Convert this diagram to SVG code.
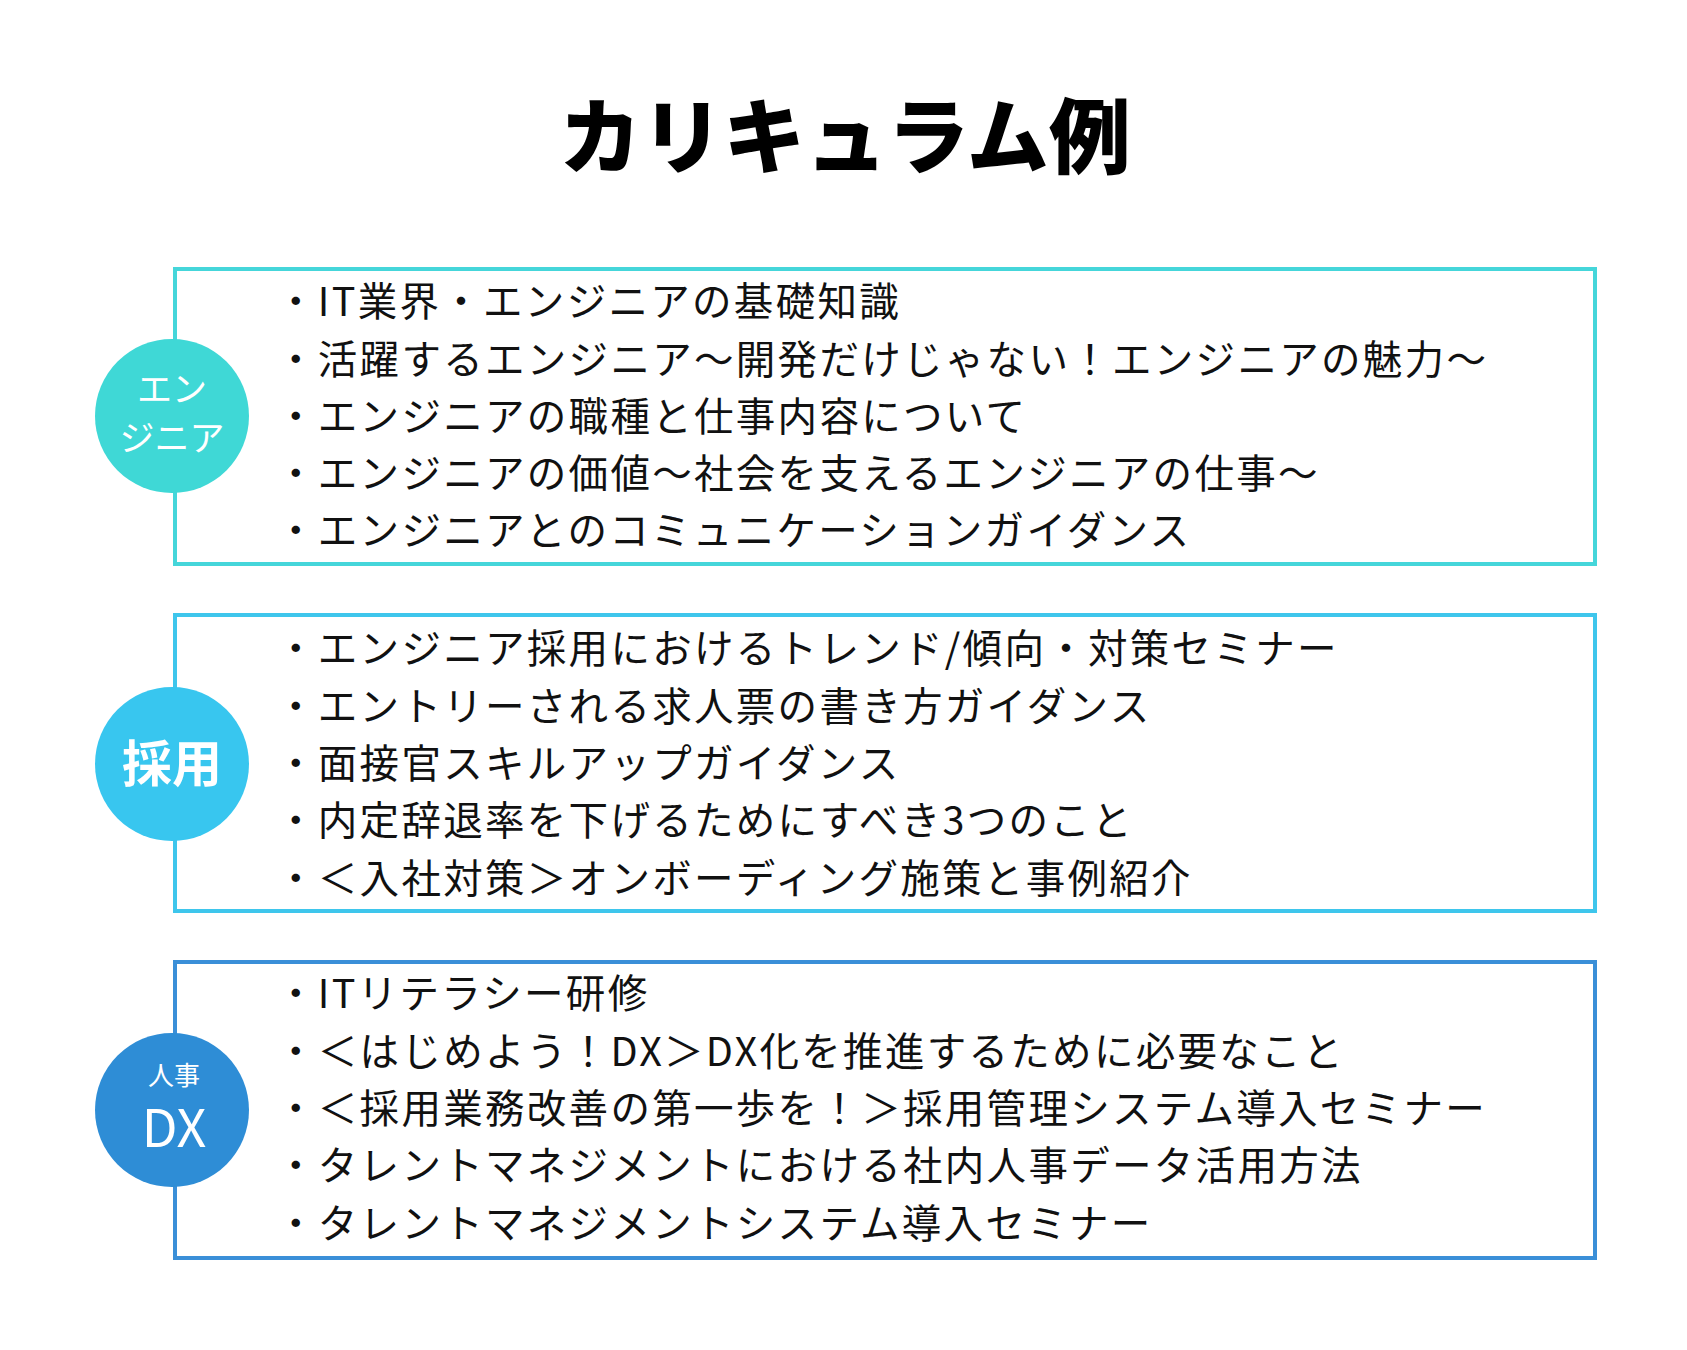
<svg xmlns="http://www.w3.org/2000/svg" width="1687" height="1350" viewBox="0 0 1687 1350">
<style>
.title{font-family:"Noto Sans CJK JP","Noto Sans",sans-serif;font-weight:900;font-size:82px;fill:#000;}
.item{font-family:"Noto Sans CJK JP","Noto Sans",sans-serif;font-size:39.5px;letter-spacing:2.3px;fill:#111;}
.ctext{font-family:"Noto Sans CJK JP","Noto Sans",sans-serif;fill:#fff;text-anchor:middle;}
.box{fill:#fff;stroke-width:4;}
</style>
<rect width="1687" height="1350" fill="#fff"/>
<text class="title" x="845" y="167" text-anchor="middle">カリキュラム例</text>

<g id="connectors"></g>

<g id="engineer">
<rect class="box" x="175" y="269" width="1420" height="295" stroke="#45D6DA"/>
<circle cx="172" cy="416" r="77" fill="#3FD8D6"/>
<text class="ctext" x="172" y="402" font-size="35">エン</text>
<text class="ctext" x="172" y="451" font-size="35">ジニア</text>
<text class="item" x="276" y="316">・IT業界・エンジニアの基礎知識</text>
<text class="item" x="276" y="374">・活躍するエンジニア〜開発だけじゃない！エンジニアの魅力〜</text>
<text class="item" x="276" y="431">・エンジニアの職種と仕事内容について</text>
<text class="item" x="276" y="488">・エンジニアの価値〜社会を支えるエンジニアの仕事〜</text>
<text class="item" x="276" y="545">・エンジニアとのコミュニケーションガイダンス</text>
</g>

<g id="saiyou">
<rect class="box" x="175" y="615" width="1420" height="296" stroke="#3EC6EC"/>
<circle cx="172" cy="764" r="77" fill="#38C6EF"/>
<text class="ctext" x="172" y="782" font-size="50" font-weight="700">採用</text>
<text class="item" x="276" y="663">・エンジニア採用におけるトレンド/傾向・対策セミナー</text>
<text class="item" x="276" y="721">・エントリーされる求人票の書き方ガイダンス</text>
<text class="item" x="276" y="778">・面接官スキルアップガイダンス</text>
<text class="item" x="276" y="835">・内定辞退率を下げるためにすべき3つのこと</text>
<text class="item" x="276" y="893">・＜入社対策＞オンボーディング施策と事例紹介</text>
</g>

<g id="jinjidx">
<rect class="box" x="175" y="962" width="1420" height="296" stroke="#3A8FD8"/>
<circle cx="172" cy="1110" r="77" fill="#2E8DD6"/>
<text class="ctext" x="174" y="1085" font-size="26">人事</text>
<text class="ctext" x="174" y="1147" font-size="52">DX</text>
<text class="item" x="276" y="1008">・ITリテラシー研修</text>
<text class="item" x="276" y="1066">・＜はじめよう！DX＞DX化を推進するために必要なこと</text>
<text class="item" x="276" y="1123">・＜採用業務改善の第一歩を！＞採用管理システム導入セミナー</text>
<text class="item" x="276" y="1180">・タレントマネジメントにおける社内人事データ活用方法</text>
<text class="item" x="276" y="1238">・タレントマネジメントシステム導入セミナー</text>
</g>
</svg>
